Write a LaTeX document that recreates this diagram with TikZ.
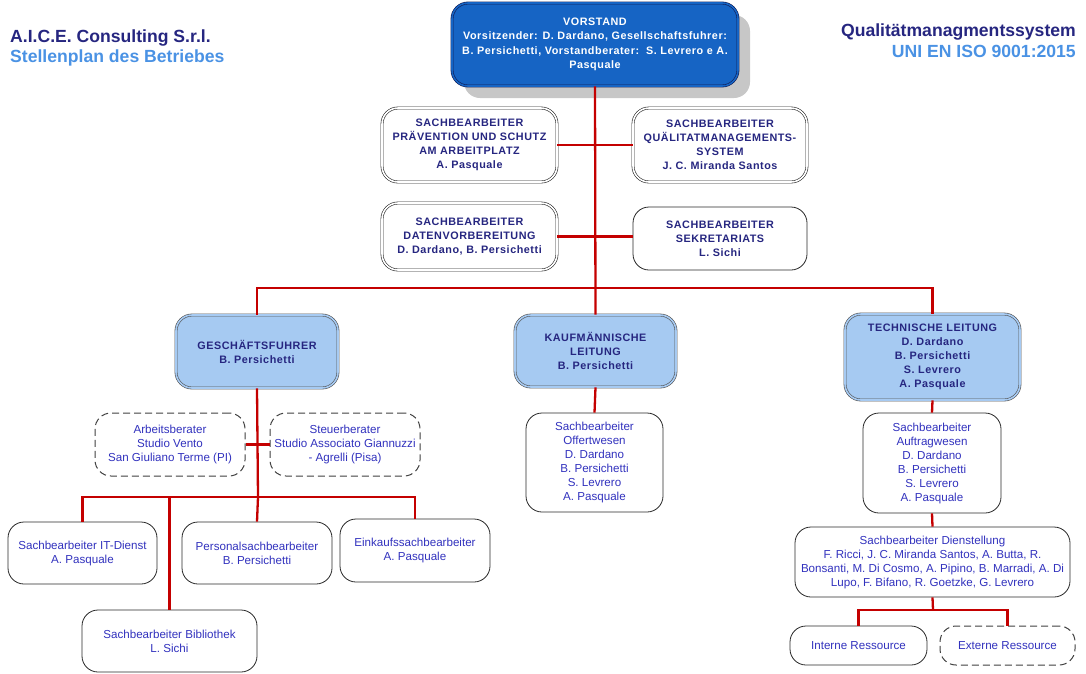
\documentclass[tikz,border=0pt]{standalone}
\usepackage{fontspec}
\setmainfont{Liberation Sans}
\newfontfamily\hdrfont[LetterSpace=5]{Liberation Sans}
\usepackage{xcolor}
\usetikzlibrary{shadows}

\definecolor{hdrblue}{RGB}{38,38,128}
\definecolor{txtblue}{RGB}{50,50,190}
\definecolor{lightblue}{RGB}{166,202,242}
\definecolor{topblue}{RGB}{22,100,196}
\definecolor{navy}{RGB}{16,28,84}
\definecolor{skyblue}{RGB}{74,146,228}
\definecolor{linkred}{RGB}{196,0,0}
\definecolor{boxline}{RGB}{40,40,40}

\begin{document}
\begin{tikzpicture}[x=1pt,y=-1pt,
            box/.style={shape=rectangle, rounded corners=16pt, draw=boxline, line width=0.8pt, fill=white,
                align=center, inner sep=0pt, text=txtblue, font=\fontsize{11.6}{14}\selectfont},
            dbox/.style={box, line width=0.6pt, double=white, double distance=1.6pt, text=hdrblue,
                font=\hdrfont\fontsize{10.8}{14}\selectfont\bfseries},
            lead/.style={dbox, fill=lightblue, double=lightblue, draw=boxline!80},
            dashbox/.style={box, line width=1pt, dash pattern=on 7pt off 4pt, draw=black!75},
            title/.style={inner sep=0pt, font=\fontsize{17.6}{20}\selectfont\bfseries},
            link/.style={draw=linkred, line width=2.3pt}]
        \useasboundingbox (0,0) rectangle (1086,673);

        % titles
        \node[title, anchor=base west, text=hdrblue] (firm) at (10,42) {A.I.C.E. Consulting S.r.l.};
        \node[title, anchor=base west, text=skyblue] (plan) at (10,62) {Stellenplan des Betriebes};
        \node[title, anchor=base east, text=hdrblue] (qms) at (1076,36) {Qualitätmanagmentssystem};
        \node[title, anchor=base east, text=skyblue] (iso) at (1076,57) {UNI EN ISO 9001:2015};

        % top
        \node[dbox, fill=topblue, double=topblue, draw=navy, text=white, minimum width=286, minimum height=83,
            font=\hdrfont\fontsize{10.8}{14.5}\selectfont\bfseries,
            drop shadow={shadow xshift=12pt, shadow yshift=-12pt, fill=black!22, opacity=1}] (vorstand) at (595,44.5)
            {VORSTAND\\Vorsitzender: D. Dardano, Gesellschaftsfuhrer:\\B. Persichetti, Vorstandberater:\ \ S. Levrero e A.\\Pasquale};

        \node[dbox, minimum width=175, minimum height=74] (praev) at (469.5,145)
            {SACHBEARBEITER\\PRÄVENTION UND SCHUTZ\\AM ARBEITPLATZ\\A. Pasquale};
        \node[dbox, minimum width=174, minimum height=74] (qual) at (720,145)
            {SACHBEARBEITER\\QUÄLITATMANAGEMENTS-\\SYSTEM\\J. C. Miranda Santos};
        \node[dbox, minimum width=175, minimum height=67] (daten) at (469.5,236.5)
            {SACHBEARBEITER\\DATENVORBEREITUNG\\D. Dardano, B. Persichetti};
        \node[box, font=\hdrfont\fontsize{10.8}{14}\selectfont\bfseries, text=hdrblue, minimum width=174, minimum height=63] (sekr) at (720,238.5)
            {SACHBEARBEITER\\SEKRETARIATS\\L. Sichi};

        \node[lead, minimum width=162, minimum height=73] (gesch) at (257,351.5) {GESCHÄFTSFUHRER\\B. Persichetti};
        \node[lead, minimum width=161, minimum height=72] (kauf) at (595.5,351) {KAUFMÄNNISCHE\\LEITUNG\\B. Persichetti};
        \node[lead, minimum width=175, minimum height=86] (tech) at (932.5,357)
            {TECHNISCHE LEITUNG\\D. Dardano\\B. Persichetti\\S. Levrero\\A. Pasquale};

        % Geschaeftsfuhrer
        \node[dashbox, minimum width=150, minimum height=63] (arbeit) at (170,444.5) {Arbeitsberater\\Studio Vento\\San Giuliano Terme (PI)};
        \node[dashbox, minimum width=150, minimum height=63] (steuer) at (345,444.5) {Steuerberater\\Studio Associato Giannuzzi\\- Agrelli (Pisa)};
        \node[box, minimum width=149, minimum height=62] (itdienst) at (82.5,553) {Sachbearbeiter IT-Dienst\\A. Pasquale};
        \node[box, minimum width=150, minimum height=62] (personal) at (257,553) {Personalsachbearbeiter\\B. Persichetti};
        \node[box, minimum width=150, minimum height=63] (einkauf) at (415,550.5) {Einkaufssachbearbeiter\\A. Pasquale};
        \node[box, minimum width=175, minimum height=62] (biblio) at (169.5,641) {Sachbearbeiter Bibliothek\\L. Sichi};

        % Kaufmaennische / Technische
        \node[box, minimum width=137, minimum height=99] (offert) at (594.5,462.5)
            {Sachbearbeiter\\Offertwesen\\D. Dardano\\B. Persichetti\\S. Levrero\\A. Pasquale};
        \node[box, minimum width=138, minimum height=100] (auftrag) at (932,463)
            {Sachbearbeiter\\Auftragwesen\\D. Dardano\\B. Persichetti\\S. Levrero\\A. Pasquale};
        \node[box, minimum width=275, minimum height=70] (dienst) at (932.5,562)
            {Sachbearbeiter Dienstellung\\F. Ricci, J. C. Miranda Santos, A. Butta, R.\\Bonsanti, M. Di Cosmo, A. Pipino, B. Marradi, A. Di\\Lupo, F. Bifano, R. Goetzke, G. Levrero};
        \node[box, minimum width=137, minimum height=39] (intern) at (858.5,645.5) {Interne Ressource};
        \node[dashbox, minimum width=135, minimum height=39] (extern) at (1007.5,645.5) {Externe Ressource};

        \coordinate (topsplit) at (595,288);
        \coordinate (gsplit) at (258,497);
        \coordinate (dsplit) at (933,610);

        % connectors
        \draw[link] (vorstand.south) -- (kauf.north);
        \draw[link] (praev.east) -- (qual.west);
        \draw[link] (daten.east) -- (daten.east -| sekr.west);
        \draw[link] (gesch.north) |- (topsplit) -| (tech.north);
        \draw[link] (kauf.south) -- (offert.north);
        \draw[link] (tech.south) -- (auftrag.north);
        \draw[link] (auftrag.south) -- (dienst.north);
        \draw[link] (dienst.south) -- (dsplit);
        \draw[link] (intern.north) |- (dsplit) -| (extern.north);
        \draw[link] (gesch.south) -- (gsplit);
        \draw[link] (arbeit.east) -- (steuer.west);
        \draw[link] (itdienst.north) |- (gsplit) -| (einkauf.north);
        \draw[link] (gsplit) -- (personal.north);
        \draw[link] (biblio.north) |- (gsplit);
    \end{tikzpicture}
\end{document}
